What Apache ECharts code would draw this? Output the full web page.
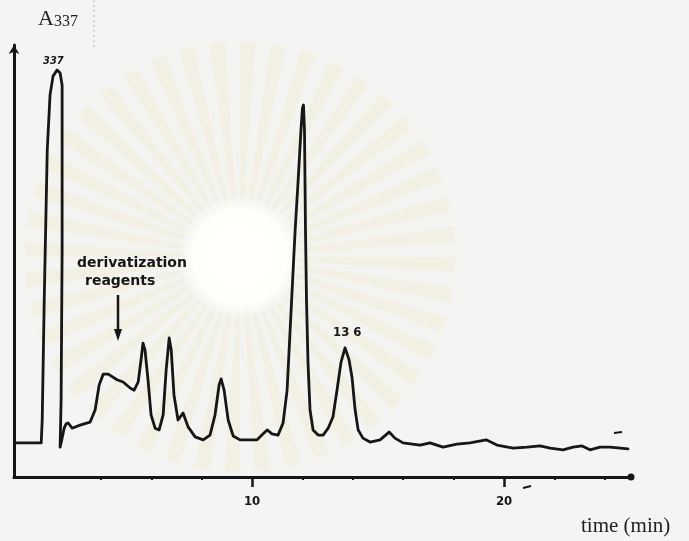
<!DOCTYPE html>
<html><head><meta charset="utf-8">
<script src="https://cdn.jsdelivr.net/npm/echarts@6/dist/echarts.min.js"></script>
<style>html,body{margin:0;padding:0;background:#f4f4f2}#c{width:689px;height:541px}</style>
</head><body><div id="c"></div>
<script>
// retention time (min)
const timeMin = [0.60,1.63,1.67,1.75,1.87,1.98,2.10,2.26,2.38,2.46,2.46,2.42,2.38,2.46,2.54,2.62,2.70,2.86,3.17,3.57,3.77,3.93,4.09,4.29,4.64,4.88,5.16,5.32,5.48,5.60,5.67,5.75,5.87,5.99,6.15,6.31,6.47,6.59,6.71,6.79,6.90,7.06,7.26,7.46,7.74,8.06,8.33,8.53,8.69,8.77,8.89,9.05,9.25,9.52,10.20,10.44,10.60,10.79,11.03,11.23,11.39,11.51,11.61,11.71,11.83,11.94,12.00,12.04,12.08,12.12,12.16,12.22,12.30,12.42,12.62,12.82,13.02,13.21,13.37,13.53,13.69,13.85,13.97,14.09,14.21,14.40,14.68,15.08,15.44,15.67,15.99,16.67,17.06,17.58,18.13,18.65,19.29,19.72,20.36,20.91,21.43,21.83,22.34,22.74,23.10,23.41,23.81,24.21,24.92];
// absorbance at 337 nm (arbitrary units)
const absorbance = [7.9,7.9,13.2,41.0,75.7,88.4,92.8,94.2,93.5,90.7,52.5,17.8,6.9,9.0,11.3,12.3,12.5,11.3,12.0,12.7,15.5,21.3,23.8,23.8,22.5,22.0,20.6,20.1,22.0,27.5,31.0,29.4,22.5,14.4,11.3,10.9,14.4,24.8,32.2,29.4,19.0,13.2,14.8,11.6,9.3,8.6,9.7,14.4,21.3,22.7,20.1,13.2,9.5,8.6,8.6,10.0,10.9,10.0,9.7,12.5,20.1,34.0,45.6,57.2,68.8,80.3,85.4,86.1,80.3,57.2,41.0,26.4,15.5,10.9,9.7,9.7,11.3,13.9,20.1,26.6,29.9,27.1,22.9,15.5,10.9,9.0,8.1,8.6,10.4,9.0,7.9,7.4,7.9,6.9,7.6,7.9,8.6,7.4,6.7,6.9,7.2,6.7,6.3,6.9,7.2,6.3,6.9,6.9,6.5];
const xLabelTicks = [10, 20];
const xMinorTicks = [4, 6, 8, 12, 14, 16, 18, 22, 24];
const yAxisTitle = 'A';
const yAxisSub = '337';
const xAxisTitle = 'time (min)';
const peakLabels = ['337', '13 6'];
const annotation = ['derivatization', 'reagents'];

const series = timeMin.map((t, i) => [t, absorbance[i]]);

// faint scanned watermark (decorative background)
const wm = [];
const cx = 240, cy = 257;
for (let k = 0; k < 44; k++) {
  const a0 = (k / 44) * Math.PI * 2;
  wm.push({type: 'sector', z: -10, silent: true,
    shape: {cx, cy, r0: 30, r: 215, startAngle: a0, endAngle: a0 + Math.PI * 2 / 88},
    style: {fill: 'rgba(238,214,150,0.13)', shadowBlur: 8, shadowColor: 'rgba(238,214,150,0.25)'}});
}
wm.push({type: 'circle', z: -9, silent: true, shape: {cx, cy, r: 62},
  style: {fill: new echarts.graphic.RadialGradient(0.5, 0.5, 0.5, [
    {offset: 0, color: 'rgba(255,255,252,1)'}, {offset: 0.75, color: 'rgba(255,255,252,0.95)'}, {offset: 1, color: 'rgba(255,255,252,0)'}])}});

const ink = '#161616';
const chart = echarts.init(document.getElementById('c'), null, {renderer: 'canvas'});
chart.setOption({
  backgroundColor: '#f4f4f2',
  animation: false,
  grid: {left: 14, right: 58, top: 45, bottom: 64, containLabel: false},
  xAxis: [{
    type: 'value', min: 0.55, max: 25.04,
    axisLine: {show: true, lineStyle: {color: ink, width: 3}, symbol: ['none', 'circle'], symbolSize: [7, 7]},
    axisTick: {show: true, customValues: xLabelTicks, length: 10, lineStyle: {color: ink, width: 2.5}},
    axisLabel: {show: true, customValues: xLabelTicks, margin: 18, color: ink,
      fontFamily: 'DejaVu Sans Condensed, DejaVu Sans', fontWeight: 'bold', fontSize: 13},
    splitLine: {show: false}
  }, {
    type: 'value', min: 0.55, max: 25.04, position: 'bottom',
    axisLine: {show: false},
    axisTick: {show: true, customValues: xMinorTicks, length: 3, lineStyle: {color: ink, width: 2}},
    axisLabel: {show: false}, splitLine: {show: false}
  }],
  yAxis: {
    type: 'value', min: 0, max: 100,
    axisLine: {show: true, lineStyle: {color: ink, width: 3}, symbol: ['none', 'arrow'], symbolSize: [8, 9]},
    axisTick: {show: false}, axisLabel: {show: false}, splitLine: {show: false}
  },
  series: [{
    type: 'line', xAxisIndex: 0, data: series, showSymbol: false, smooth: false,
    lineStyle: {color: ink, width: 2.8, join: 'round', cap: 'round'}
  }],
  graphic: wm.concat([
    {type: 'line', z: -5, silent: true, shape: {x1: 94, y1: 0, x2: 94, y2: 50},
      style: {stroke: '#b8b8b8', lineWidth: 1, lineDash: [2, 3]}},
    {type: 'text', left: 38, top: 8, style: {
      text: '{a|' + yAxisTitle + '}{s|' + yAxisSub + '}',
      rich: {a: {fontFamily: 'Liberation Serif', fontSize: 22, fill: '#222', verticalAlign: 'bottom'},
             s: {fontFamily: 'Liberation Serif', fontSize: 16, fill: '#222', padding: [10, 0, 0, 0], verticalAlign: 'bottom'}}}},
    {type: 'text', left: 581, top: 516, style: {text: xAxisTitle, font: '21px "Liberation Serif"', fill: '#222'}},
    {type: 'text', left: 43, top: 56, style: {text: peakLabels[0], font: 'italic bold 11px "DejaVu Sans Condensed"', fill: ink}},
    {type: 'text', left: 333, top: 326, style: {text: peakLabels[1], font: 'bold 13px "DejaVu Sans Condensed"', fill: ink}},
    {type: 'text', left: 77, top: 256, style: {text: annotation[0], font: 'bold 14px "DejaVu Sans"', fill: ink}},
    {type: 'text', left: 85, top: 274, style: {text: annotation[1], font: 'bold 14px "DejaVu Sans"', fill: ink}},
    {type: 'line', shape: {x1: 118, y1: 295, x2: 118, y2: 332}, style: {stroke: ink, lineWidth: 2.5}},
    {type: 'polygon', shape: {points: [[114, 329], [122, 329], [118, 341]]}, style: {fill: ink}},
    {type: 'line', shape: {x1: 614, y1: 433, x2: 622, y2: 432}, style: {stroke: ink, lineWidth: 2}},
    {type: 'line', shape: {x1: 523, y1: 488, x2: 531, y2: 486}, style: {stroke: ink, lineWidth: 2}}
  ])
});
</script></body></html>
